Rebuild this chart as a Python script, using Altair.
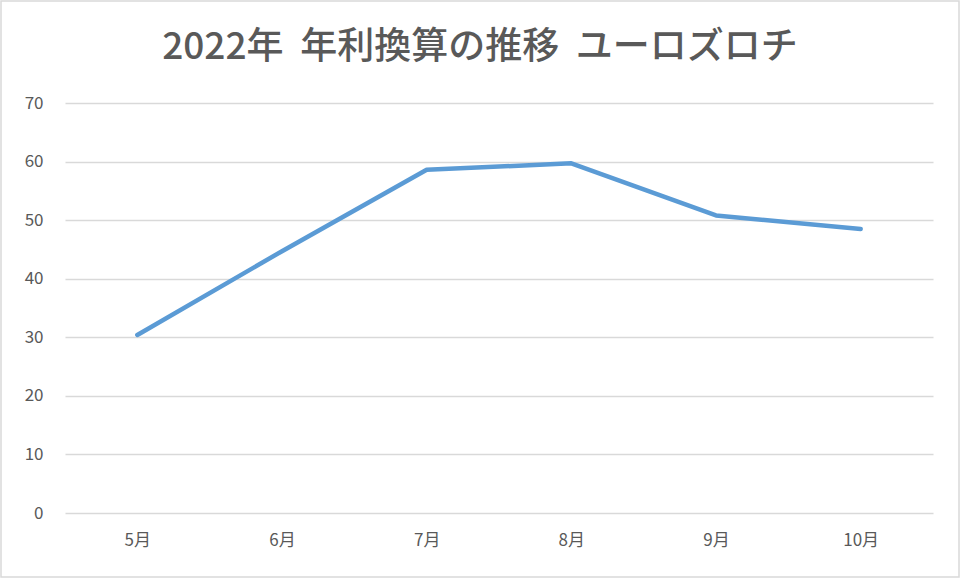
import altair as alt
import pandas as pd

months = ["5月", "6月", "7月", "8月", "9月", "10月"]
values = [30.4, 44.7, 58.6, 59.7, 50.8, 48.5]
y_ticks = [0, 10, 20, 30, 40, 50, 60, 70]
title_text = "2022年\u00a0\u00a0年利換算の推移\u00a0\u00a0ユーロズロチ"

df = pd.DataFrame({"month": months, "value": values})

FONT = "Noto Sans CJK JP"
GREY = "#595959"
W, H = 868, 410
PAD = {"left": 65, "top": 103, "right": 27, "bottom": 65}

line = alt.Chart(df).mark_line(
    color="#5b9bd5", strokeWidth=4.5, strokeCap="round", strokeJoin="round"
).encode(
    x=alt.X("month:N", sort=months, title=None,
            scale=alt.Scale(type="point", padding=0.5),
            axis=alt.Axis(labelAngle=0, domain=False, ticks=False, grid=False,
                          labelPadding=19, labelFontSize=17, labelColor=GREY,
                          labelFont=FONT)),
    y=alt.Y("value:Q", title=None,
            scale=alt.Scale(domain=[0, 70], nice=False, zero=True),
            axis=alt.Axis(values=y_ticks, domain=False, ticks=False,
                          gridColor="#d9d9d9", gridWidth=1.3,
                          labelPadding=22, labelFontSize=17, labelColor=GREY,
                          labelFont=FONT)),
)

one = pd.DataFrame({"k": [0]})

border = alt.Chart(one).mark_rect(
    fill="transparent", stroke="#d9d9d9", strokeWidth=1.5
).encode(
    x=alt.value(-PAD["left"] + 1), x2=alt.value(W + PAD["right"] - 1),
    y=alt.value(-PAD["top"] + 1), y2=alt.value(H + PAD["bottom"] - 1),
)

title = alt.Chart(one).mark_text(
    text=title_text, font=FONT, fontSize=37, fontWeight=500, color=GREY,
    align="center", baseline="middle"
).encode(x=alt.value(480 - PAD["left"]), y=alt.value(48 - PAD["top"]))

chart = alt.layer(border, title, line).properties(
    width=W, height=H,
    autosize=alt.AutoSizeParams(type="none"),
    padding=PAD,
).configure(background="white", view=alt.ViewConfig(strokeWidth=0))

chart.save("out.html", embed_options={"renderer": "svg", "actions": False})
